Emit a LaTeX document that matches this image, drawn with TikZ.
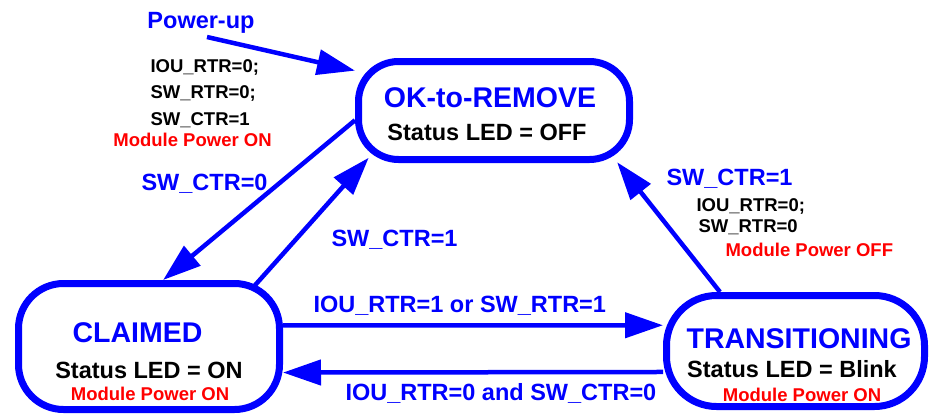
\documentclass[tikz,border=0pt]{standalone}
\usepackage{fontspec}
\setmainfont{Liberation Sans}
\usepackage{xcolor}
\usetikzlibrary{arrows.meta,positioning,calc}

\definecolor{stblue}{RGB}{0,0,255}
\definecolor{stred}{RGB}{255,0,0}

\tikzset{
    state/.style={draw=stblue, fill=white, line width=7pt, rounded corners=45pt, inner sep=0pt},
    flow/.style={draw=stblue, line width=4.5pt, -{Triangle[length=38pt,width=25pt]}},
    stname/.style={font=\fontsize{28.5}{34}\selectfont\bfseries, text=stblue},
    stled/.style={font=\fontsize{23.5}{28}\selectfont\bfseries, text=black},
    cond/.style={font=\fontsize{23.5}{28}\selectfont\bfseries, text=stblue},
    act/.style={font=\fontsize{18.5}{22}\selectfont\bfseries, text=black},
    pwr/.style={font=\fontsize{18.5}{22}\selectfont\bfseries, text=stred}
}

\begin{document}
\begin{tikzpicture}[x=1pt, y=-1pt]
    \useasboundingbox (0,0) rectangle (935,413);

    % states
    \node[state, rounded corners=40pt, minimum width=271pt, minimum height=98pt] (ok) at (494,110.5) {};
    \node[state, minimum width=261pt, minimum height=126pt] (claimed) at (149,346.5) {};
    \node[state, rounded corners=50pt, minimum width=258pt, minimum height=111pt] (trans) at (795.5,351) {};

    \node[stname, anchor=base] (okname) at (490,107) {OK-to-REMOVE};
    \node[stled, anchor=base] (okled) at (487,140.5) {Status LED = OFF};

    \node[stname, anchor=base] (clname) at (137.5,342.5) {CLAIMED};
    \node[stled, anchor=base] (clled) at (149,378) {Status LED = ON};
    \node[pwr, anchor=base] (clpwr) at (150,400) {Module Power ON};

    \node[stname, anchor=base] (trname) at (799,348) {TRANSITIONING};
    \node[stled, anchor=base] (trled) at (792,377) {Status LED = Blink};
    \node[pwr, anchor=base] (trpwr) at (802,401.5) {Module Power ON};

    % Power-up
    \coordinate (pwrin) at (207,37);
    \draw[flow] (pwrin) -- (ok.164);
    \node[cond, anchor=base] (lpwrup) at (201,28) {Power-up};
    \node[act, anchor=base west] (lpu1) at (147,72.5) {IOU\_RTR=0;};
    \node[act, anchor=base west] (lpu2) at (147,98) {SW\_RTR=0;};
    \node[act, anchor=base west] (lpu3) at (147,125) {SW\_CTR=1};
    \node[pwr, anchor=base] (lpu4) at (192.5,146) {Module Power ON};

    % OK-to-REMOVE <-> CLAIMED
    \draw[flow] (ok.184) -- (claimed.78);
    \node[cond, anchor=base west] (lctr0) at (138,190) {SW\_CTR=0};
    \draw[flow, shorten <=-9pt, shorten >=-7pt] (claimed.31) -- (ok.202);
    \node[cond, anchor=base west] (lctr1) at (328,246) {SW\_CTR=1};

    % TRANSITIONING -> OK-to-REMOVE
    \draw[flow, shorten >=-1pt] (trans.142) -- (ok.337);
    \node[cond, anchor=base west] (lrctr1) at (663,185) {SW\_CTR=1};
    \node[act, anchor=base west] (lr1) at (693,211.5) {IOU\_RTR=0;};
    \node[act, anchor=base west] (lr2) at (695,232) {SW\_RTR=0};
    \node[pwr, anchor=base west] (lr3) at (722,256) {Module Power OFF};

    % CLAIMED <-> TRANSITIONING
    \draw[flow] (claimed.9) -- (trans.169);
    \node[cond, anchor=base west] (lfwd) at (310,312) {IOU\_RTR=1 or SW\_RTR=1};
    \draw[flow] (trans.189) -- (claimed.349);
    \node[cond, anchor=base west] (lback) at (342,400) {IOU\_RTR=0 and SW\_CTR=0};
\end{tikzpicture}
\end{document}
